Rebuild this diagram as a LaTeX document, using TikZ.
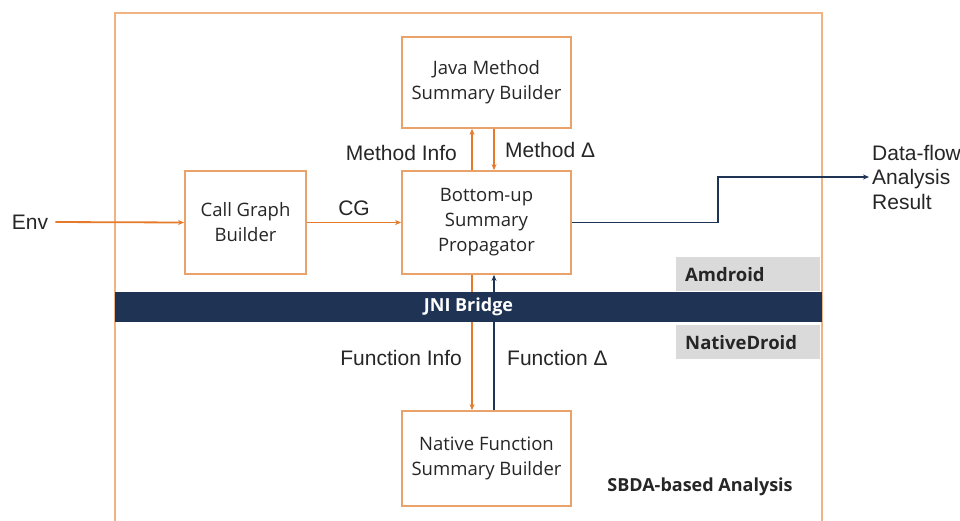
\documentclass[tikz,border=0pt]{standalone}
\usepackage{fontspec}
\setmainfont{Liberation Sans}
\newfontfamily\boxfont{Open Sans}
\usetikzlibrary{arrows.meta}
\definecolor{frameorange}{HTML}{F0B383}
\definecolor{boxorange}{HTML}{EAA26B}
\definecolor{arroworange}{HTML}{E57A2A}
\definecolor{navy}{HTML}{1F3354}
\definecolor{panelgray}{HTML}{DADADA}
\definecolor{inktext}{HTML}{262626}

\begin{document}
\begin{tikzpicture}[x=1pt,y=-1pt,
  block/.style={draw=boxorange, line width=1.8pt, fill=white, text=inktext,
    font=\boxfont\fontsize{18.5}{25}\selectfont, align=center, inner sep=0pt},
  lbl/.style={text=inktext, font=\fontsize{21}{25}\selectfont, inner sep=2pt},
  boldlbl/.style={text=inktext, font=\boxfont\bfseries\fontsize{18}{22}\selectfont},
  panel/.style={fill=panelgray, draw=none, anchor=north west, minimum height=34pt,
    text width=126pt, inner xsep=9pt, inner ysep=0pt, align=left,
    text=inktext, font=\boxfont\bfseries\fontsize{18.5}{22}\selectfont},
  oflow/.style={draw=arroworange, line width=1.8pt, -{Stealth[length=6pt,width=5pt]}},
  nflow/.style={draw=navy, line width=1.8pt, -{Stealth[length=6pt,width=5pt]}}
]
\useasboundingbox (0,0) rectangle (960,521);
\fill[white] (0,0) rectangle (960,521);

% analysis frame (open towards the bottom edge)
\draw[frameorange, line width=1.8pt] (115,530) |- (822,13) -- (822,530);

% builders and propagator
\node[block, minimum width=169pt, minimum height=91pt] (java) at (486.5,82.5)
  {Java Method\\Summary Builder};
\node[block, minimum width=121pt, minimum height=103pt] (cg) at (245.5,222.5)
  {Call Graph\\Builder};
\node[block, minimum width=169pt, minimum height=103pt] (bu) at (486.5,222.5)
  {Bottom-up\\Summary\\Propagator};
\node[block, minimum width=169pt, minimum height=95pt] (native) at (486.5,458.5)
  {Native Function\\Summary Builder};

% layer panels
\node[panel] (amd) at (676,257) {Amdroid};
\node[panel] (nd) at (676,325) {NativeDroid};

% inputs and outputs
\node[lbl] (env) at (30,222) {Env};
\node[lbl, anchor=west, align=left, font=\fontsize{21}{24.5}\selectfont, inner sep=3pt] (out) at (869,177)
  {Data-flow\\Analysis\\Result};
\coordinate (bend) at (718,177);

\draw[oflow, shorten <=5pt] (env.east) -- (cg.west);
\draw[oflow] (cg.east) -- node[lbl, above=4pt] (cglbl) {CG} (bu.west);

\draw[oflow] ([xshift=-14.5pt]bu.north) -- ([xshift=-14.5pt]java.south);
\draw[oflow] ([xshift=7.5pt]java.south) -- ([xshift=7.5pt]bu.north);
\draw[oflow] ([xshift=-14.5pt]bu.south) -- ([xshift=-14.5pt]native.north);
\draw[nflow] ([xshift=7.5pt]native.north) -- ([xshift=7.5pt]bu.south);

\draw[nflow] (bu.east) -| (bend) -- (out.west);

% JNI bridge bar, laid over the vertical flows
\node[fill=navy, minimum width=707pt, minimum height=30pt, inner sep=0pt,
  text=white, font=\boxfont\bfseries\fontsize{18}{22}\selectfont] (jni) at (468.5,307) {JNI Bridge};

% flow labels
\node[lbl, anchor=east] (mi) at (459,153) {Method Info};
\node[lbl, anchor=west] (md) at (503,150) {Method Δ};
\node[lbl, anchor=east] (fi) at (464,358) {Function Info};
\node[lbl, anchor=west] (fd) at (505,358) {Function Δ};

\node[boldlbl] (sbda) at (700,487) {SBDA-based Analysis};
\end{tikzpicture}
\end{document}
